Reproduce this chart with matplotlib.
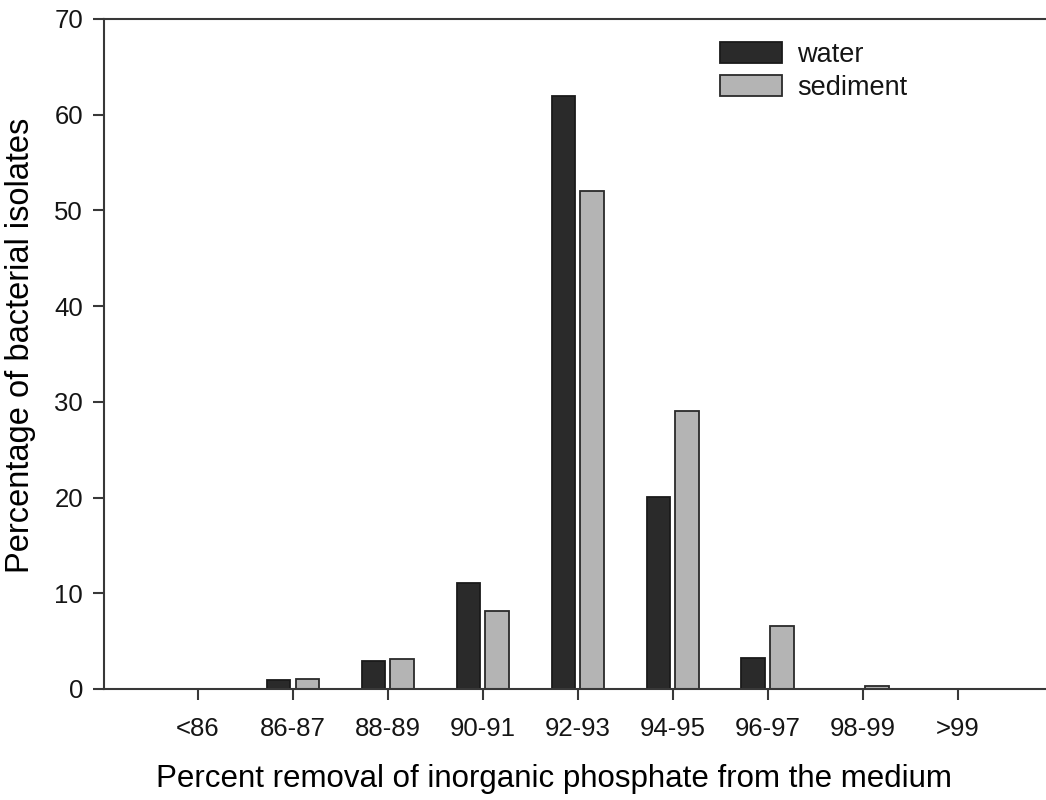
import matplotlib
matplotlib.use("Agg")
import matplotlib.pyplot as plt
import numpy as np

categories = ["<86", "86-87", "88-89", "90-91", "92-93", "94-95", "96-97", "98-99", ">99"]
water = [0, 0.9, 2.9, 11.1, 62, 20.1, 3.2, 0, 0]
sediment = [0, 1.0, 3.1, 8.2, 52, 29, 6.6, 0.35, 0]

plt.rcParams['font.family'] = ['Liberation Sans', 'DejaVu Sans']
plt.rcParams['text.color'] = '#151515'
plt.rcParams['xtick.labelcolor'] = '#151515'
plt.rcParams['ytick.labelcolor'] = '#151515'

fig = plt.figure(figsize=(10.46, 8), dpi=100)
ax = fig.add_axes([104/1046, 1-689/800, 1-104/1046, (689-19)/800])

x = np.arange(len(categories))
w = 0.25
ax.bar(x - 0.152, water, width=w, color='#2a2a2a', edgecolor='#1a1a1a', linewidth=1.3, label='water')
ax.bar(x + 0.152, sediment, width=w, color='#b4b4b4', edgecolor='#2a2a2a', linewidth=1.3, label='sediment')

ax.set_xlim(-0.99, 8.93)
ax.set_ylim(0, 70)
ax.set_yticks(np.arange(0, 71, 10))
ax.set_xticks(x)
ax.set_xticklabels(categories)
ax.spines['right'].set_visible(False)
for s in ['left', 'bottom', 'top']:
    ax.spines[s].set_linewidth(1.5)
    ax.spines[s].set_color('#383838')
ax.tick_params(axis='both', direction='out', length=8, width=1.5, color='#383838', labelsize=18.5, pad=7)
ax.tick_params(axis='x', pad=12)

ax.set_xlabel("Percent removal of inorganic phosphate from the medium", fontsize=22.5)
ax.set_ylabel("Percentage of bacterial isolates", fontsize=23.5)
ax.xaxis.set_label_coords((554-104)/942, (689-764)/670)
ax.yaxis.set_label_coords((36-104)/942, (689-345.5)/670)

ax.legend(loc='upper left', bbox_to_anchor=(720/1046, 1-42/800), bbox_transform=fig.transFigure,
          frameon=False, fontsize=19.5, borderpad=0, borderaxespad=0,
          handlelength=2.3, handleheight=0.78, handletextpad=0.55, labelspacing=0.26)

fig.savefig("out.png", dpi=100)
